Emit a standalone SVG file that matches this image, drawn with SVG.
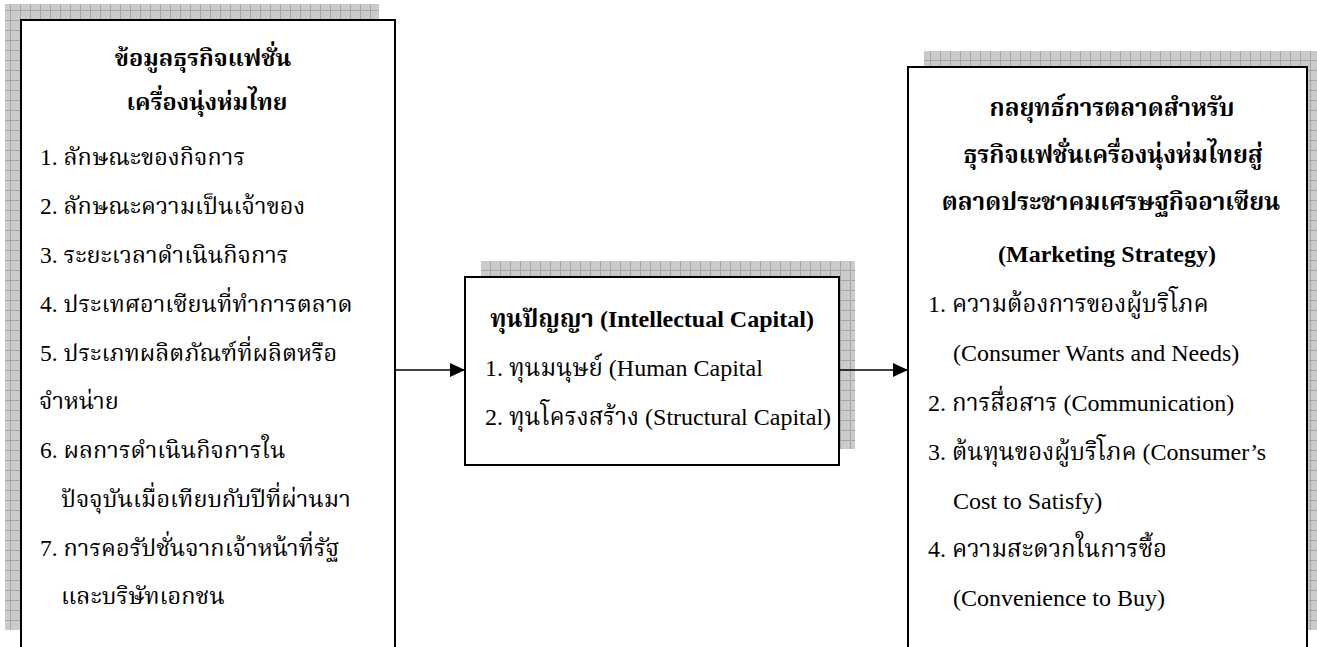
<svg xmlns="http://www.w3.org/2000/svg" width="1317" height="647" viewBox="0 0 1317 647">
<defs>
<pattern id="grid" width="10" height="10" patternUnits="userSpaceOnUse">
<rect width="10" height="10" fill="#cbcbcb"/>
<path d="M0 0.5H10M0.5 0V10" stroke="#a6a6a6" stroke-width="1" fill="none"/>
</pattern>
<marker id="arr" viewBox="0 0 15 14" refX="15" refY="7" markerWidth="15" markerHeight="14" markerUnits="userSpaceOnUse" orient="auto">
<path d="M0 0L15 7L0 14Z" fill="#000"/>
</marker>
</defs>
<style>
.shadow{fill:url(#grid);}
.box{fill:#fff;stroke:#000;stroke-width:2;}
text{font-family:"Liberation Serif","Noto Serif Thai","Noto Sans Thai Looped","Norasi","Kinnari","Laksaman","Loma","Garuda","DejaVu Serif",serif;fill:#000;}
.t{font-weight:bold;text-anchor:middle;}
.l{font-size:23.5px;}
.m{font-size:24px;}
.r{font-size:24px;}
.conn{stroke:#000;stroke-width:1.5;fill:none;}
</style>
<rect width="1317" height="647" fill="#fff"/>
<g id="node-business-info">
<rect class="shadow" x="5" y="4" width="374" height="626"/>
<rect class="box" x="21" y="20" width="374" height="629"/>
<text class="l t" x="203" y="66">ข้อมูลธุรกิจแฟชั่น</text>
<text class="l t" x="207" y="110">เครื่องนุ่งห่มไทย</text>
<text class="l" x="40" y="165">1. ลักษณะของกิจการ</text>
<text class="l" x="40" y="214">2. ลักษณะความเป็นเจ้าของ</text>
<text class="l" x="40" y="263">3. ระยะเวลาดำเนินกิจการ</text>
<text class="l" x="40" y="312">4. ประเทศอาเซียนที่ทำการตลาด</text>
<text class="l" x="40" y="361">5. ประเภทผลิตภัณฑ์ที่ผลิตหรือ</text>
<text class="l" x="39" y="409">จำหน่าย</text>
<text class="l" x="40" y="458">6. ผลการดำเนินกิจการใน</text>
<text class="l" x="61" y="507">ปัจจุบันเมื่อเทียบกับปีที่ผ่านมา</text>
<text class="l" x="40" y="556">7. การคอรัปชั่นจากเจ้าหน้าที่รัฐ</text>
<text class="l" x="61" y="604">และบริษัทเอกชน</text>
</g>
<g id="node-intellectual-capital">
<rect class="shadow" x="481" y="261" width="374" height="188"/>
<rect class="box" x="465" y="277" width="374" height="188"/>
<text class="m t" x="652" y="327">ทุนปัญญา (Intellectual Capital)</text>
<text class="m" x="485" y="376">1. ทุนมนุษย์ (Human Capital</text>
<text class="m" x="485" y="425">2. ทุนโครงสร้าง (Structural Capital)</text>
</g>
<g id="node-marketing-strategy">
<rect class="shadow" x="924" y="51" width="399" height="579"/>
<rect class="box" x="908" y="67" width="399" height="582"/>
<text class="r t" x="1112" y="116">กลยุทธ์การตลาดสำหรับ</text>
<text class="r t" x="1113" y="163">ธุรกิจแฟชั่นเครื่องนุ่งห่มไทยสู่</text>
<text class="r t" x="1111" y="210">ตลาดประชาคมเศรษฐกิจอาเซียน</text>
<text class="r t" x="1107" y="262">(Marketing Strategy)</text>
<text class="r" x="928" y="312">1. ความต้องการของผู้บริโภค</text>
<text class="r" x="953" y="361">(Consumer Wants and Needs)</text>
<text class="r" x="928" y="411">2. การสื่อสาร (Communication)</text>
<text class="r" x="928" y="460">3. ต้นทุนของผู้บริโภค (Consumer’s</text>
<text class="r" x="953" y="509">Cost to Satisfy)</text>
<text class="r" x="928" y="557">4. ความสะดวกในการซื้อ</text>
<text class="r" x="953" y="606">(Convenience to Buy)</text>
</g>
<g id="connectors">
<line class="conn" x1="395" y1="370" x2="465" y2="370" marker-end="url(#arr)"/>
<line class="conn" x1="839" y1="370" x2="908" y2="370" marker-end="url(#arr)"/>
</g>
</svg>
